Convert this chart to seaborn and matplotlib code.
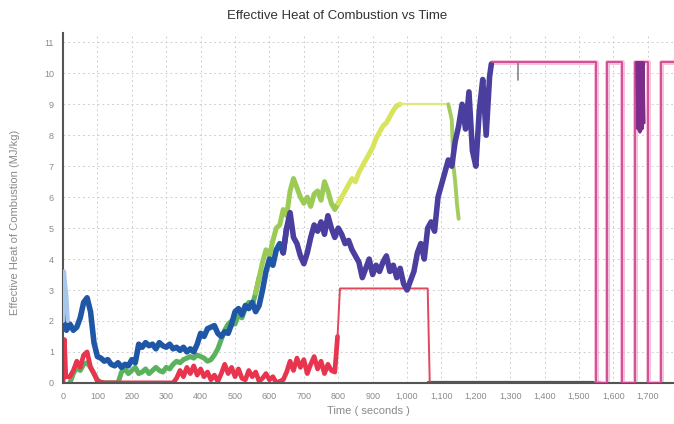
import matplotlib
matplotlib.use("Agg")
import matplotlib.pyplot as plt
import seaborn as sns
import numpy as np
from matplotlib.ticker import FuncFormatter

# ---------------- data ----------------
blue_t = list(range(0, 1250, 10)) + [1245]
blue_v = [2.4, 1.7, 1.9, 1.7, 1.8, 2.1, 2.6, 2.75, 2.3, 1.3,
          0.85, 0.8, 0.7, 0.75, 0.6, 0.55, 0.65, 0.5, 0.6, 0.55,
          0.75, 0.65, 1.25, 1.15, 1.3, 1.2, 1.25, 1.1, 1.3, 1.2,
          1.15, 1.25, 1.1, 1.15, 1.05, 1.15, 1.0, 1.1, 1.0, 1.25,
          1.6, 1.5, 1.75, 1.8, 1.85, 1.6, 1.5, 1.65, 1.6, 1.9,
          2.3, 2.4, 2.2, 2.5, 2.4, 2.6, 2.3, 2.5, 3.0, 3.6,
          4.0, 3.8, 4.3, 4.5, 4.2, 5.0, 5.5, 4.7, 4.5, 4.1,
          3.85, 4.2, 4.7, 5.1, 4.9, 5.2, 4.8, 5.4, 5.0, 4.7,
          5.0, 4.8, 4.5, 4.6, 4.3, 4.1, 3.9, 3.4, 3.7, 4.0,
          3.5, 3.8, 3.6, 3.9, 4.1, 3.6, 3.8, 3.4, 3.7, 3.2,
          3.0, 3.3, 3.6, 4.2, 4.5, 4.0, 5.0, 5.2, 4.9, 6.0,
          6.4, 6.8, 7.2, 7.0, 7.8, 8.3, 9.0, 8.2, 9.4, 7.5,
          7.0, 8.8, 9.8, 8.0, 9.9, 10.3]

lightblue_t = [0, 3, 6, 10, 14]
lightblue_v = [2.0, 3.6, 3.2, 2.8, 2.0]

green_t = [20, 30, 40, 50, 60, 70, 80, 90, 100, 110, 160,
           170, 180, 190, 200, 210, 220, 230, 240, 250, 260, 270, 280, 290,
           300, 310, 320, 330, 340, 350, 360, 370, 380, 390,
           400, 410, 420, 430, 440, 450, 460, 470, 480, 490,
           500, 510, 520, 530, 540, 550, 560, 570, 580, 590,
           600, 610, 620, 630, 640, 650, 660, 670, 680, 690,
           700, 710, 720, 730, 740, 750, 760, 770, 780, 790,
           800, 810, 820, 830, 840, 850, 860, 870, 880, 890,
           900, 910, 920, 930, 940, 950, 960, 970, 980, 1120,
           1130, 1135, 1140, 1145, 1150]
green_v = [0.0, 0.3, 0.5, 0.4, 0.6, 0.65, 0.5, 0.3, 0.1, 0.0, 0.0,
           0.35, 0.45, 0.3, 0.4, 0.5, 0.3, 0.35, 0.45, 0.3, 0.4, 0.5, 0.4, 0.35,
           0.5, 0.45, 0.6, 0.7, 0.65, 0.75, 0.8, 0.85, 0.8, 0.9,
           0.85, 0.8, 0.7, 0.75, 0.9, 1.1, 1.4, 1.7, 1.9, 2.0,
           1.9, 2.2, 2.1, 2.4, 2.6, 2.5, 2.9, 3.4, 3.9, 4.3,
           4.1, 4.6, 5.0, 5.1, 5.6, 5.4, 6.2, 6.6, 6.3, 6.0,
           5.8, 6.0, 5.7, 6.1, 6.2, 5.9, 6.5, 6.2, 5.8, 5.6,
           5.8, 6.0, 6.2, 6.4, 6.6, 6.5, 6.8, 7.0, 7.2, 7.4,
           7.6, 7.9, 8.1, 8.3, 8.4, 8.6, 8.8, 8.95, 9.0, 9.0,
           8.5, 7.0, 6.5, 5.8, 5.3]

red_t = [0, 4, 8, 20, 30, 40, 50, 60, 70, 80, 90, 100, 120, 320,
         330, 340, 350, 360, 370, 380, 390, 400, 410, 420, 430, 440, 450,
         460, 470, 480, 490, 500, 510, 520, 530, 540, 550, 560, 570, 580,
         590, 600, 610, 620, 630, 640, 650, 660, 670, 680, 690, 700, 710,
         720, 730, 740, 750, 760, 770, 780, 790, 798, 805, 1060, 1063, 1066, 1090]
red_v = [0.0, 1.4, 0.2, 0.2, 0.4, 0.7, 0.5, 0.9, 1.0, 0.5, 0.3, 0.05, 0.0, 0.0,
         0.15, 0.4, 0.2, 0.5, 0.3, 0.55, 0.25, 0.45, 0.2, 0.35, 0.1, 0.25, 0.05,
         0.3, 0.6, 0.3, 0.5, 0.2, 0.45, 0.15, 0.1, 0.4, 0.2, 0.35, 0.05, 0.15,
         0.3, 0.1, 0.2, 0.0, 0.05, 0.1, 0.35, 0.7, 0.4, 0.8, 0.5, 0.75, 0.3,
         0.6, 0.85, 0.45, 0.7, 0.3, 0.6, 0.4, 0.35, 1.5, 3.05, 3.05, 1.5, 0.0, 0.0]

magenta_t = [1246, 1548, 1548, 1580, 1580, 1626, 1626, 1664, 1664, 1701, 1701, 1739, 1739, 1775]
magenta_v = [10.35, 10.35, 0.0, 0.0, 10.35, 10.35, 0.0, 0.0, 10.35, 10.35, 0.0, 0.0, 10.35, 10.35]

purple_t = [1668, 1671, 1674, 1677, 1680, 1683, 1686, 1689]
purple_v = [10.35, 8.2, 10.35, 8.1, 10.35, 8.2, 10.35, 8.4]

base_t = [1060, 1560]
base_v = [0.03, 0.03]

gray_t = [1322, 1322]
gray_v = [10.35, 9.8]

x_ticks = list(range(0, 1800, 100))
y_ticks = list(range(0, 12))

# ---------------- plotting ----------------
sns.set_style("white")
plt.rcParams['font.family'] = ['Liberation Sans', 'DejaVu Sans']

fig = plt.figure(figsize=(6.74, 4.24), dpi=100)
ax = fig.add_axes([0.0935, 0.097, 0.906, 0.825])


def line(t, v, color, lw, alpha=1.0, z=2):
    sns.lineplot(x=t, y=v, ax=ax, color=color, linewidth=lw, alpha=alpha,
                 estimator=None, sort=False, zorder=z)


bt = np.array(blue_t)
bv = np.array(blue_v)
gt = np.array(green_t)
gv = np.array(green_v)

# green series (beneath blue)
m1 = gt <= 570
m2 = (gt >= 560) & (gt <= 810)
m3 = (gt >= 800) & (gt <= 980)
m4 = (gt >= 980) & (gt <= 1120)
line(gt[m1], gv[m1], "#5bb25e", 3.6)
line(gt[m2], gv[m2], "#9bcb55", 3.6)
line(gt[m3], gv[m3], "#d8e55c", 3.6)
line(gt[m4], gv[m4], "#dfe87a", 1.6)
line(gt[gt >= 1120], gv[gt >= 1120], "#a3cc5e", 2.8)

# red series
rt = np.array(red_t)
rv = np.array(red_v)
line(rt[rt <= 800], rv[rt <= 800], "#e8344e", 3.4)
line(rt[rt >= 798], rv[rt >= 798], "#e0485c", 1.4)

# blue series
line(bt[bt <= 650], bv[bt <= 650], "#1f57a6", 4.0, z=3)
line(bt[bt >= 640], bv[bt >= 640], "#4a3e9e", 4.0, z=3)
line(lightblue_t, lightblue_v, "#a7c7ea", 3.0, z=3)

# end segment / magenta
line(base_t, base_v, "#555555", 1.6, z=1)
line(magenta_t, magenta_v, "#f4b3d2", 3.6, alpha=0.8, z=2)
line(magenta_t, magenta_v, "#d1478f", 1.3, z=3)
line(purple_t, purple_v, "#7d2c8c", 2.2, z=4)
line(gray_t, gray_v, "#8a7f8a", 1.2, z=4)

# axes styling
ax.set_xlim(0, 1775)
ax.set_ylim(0, 11.3)
ax.set_xticks(x_ticks)
ax.set_yticks(y_ticks)
ax.xaxis.set_major_formatter(FuncFormatter(lambda v, p: f"{int(v):,}"))
ax.grid(True, which="major", color="#cfcfcf", linestyle=(0, (2, 3)), linewidth=0.7)
ax.tick_params(axis="both", labelsize=6.5, colors="#8a8a8a", length=3, width=0.6)
for s in ["top", "right"]:
    ax.spines[s].set_visible(False)
ax.spines["left"].set_color("#555555")
ax.spines["left"].set_linewidth(1.5)
ax.spines["bottom"].set_color("#555555")
ax.spines["bottom"].set_linewidth(1.5)

fig.text(0.5, 0.962, "Effective Heat of Combustion vs Time", fontsize=9.5,
         color="#333333", ha="center", va="center")
ax.set_xlabel("Time ( seconds )", fontsize=8, color="#8a8a8a", labelpad=4)
ax.set_ylabel("Effective Heat of Combustion (MJ/kg)", fontsize=8, color="#8a8a8a")
ax.yaxis.set_label_coords(-0.07, 0.46)

fig.savefig("out.png", dpi=100)
